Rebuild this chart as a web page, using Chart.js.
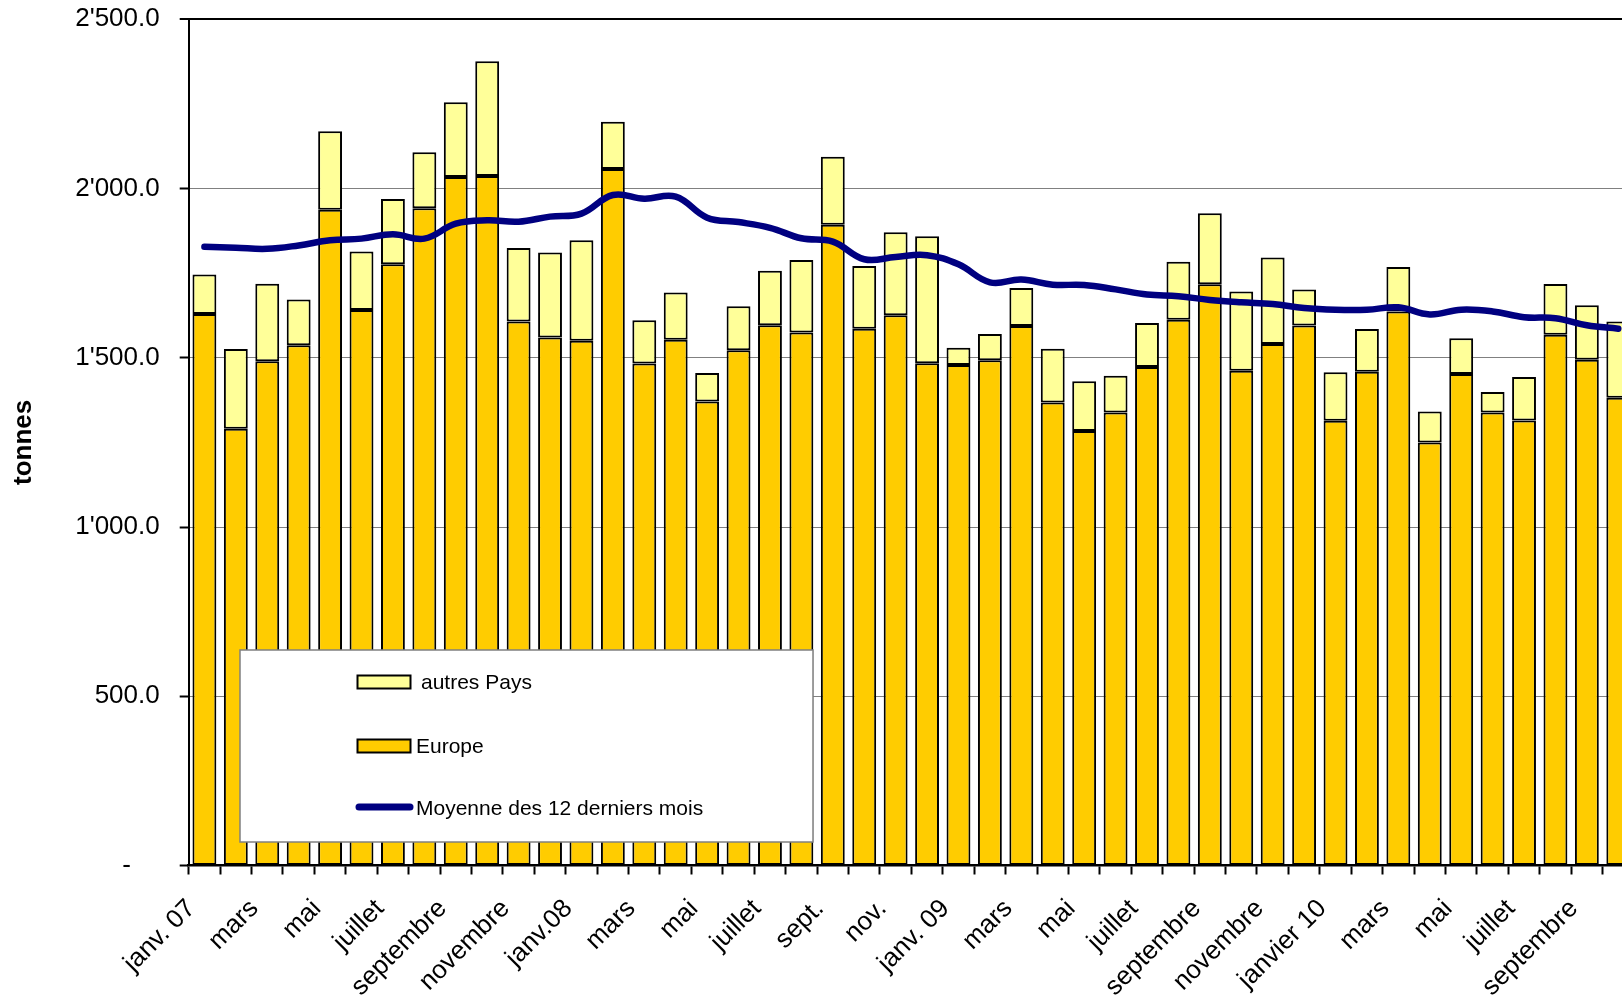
<!DOCTYPE html>
<html><head><meta charset="utf-8">
<script src="https://cdn.jsdelivr.net/npm/chart.js@4/dist/chart.umd.min.js"></script>
<style>
html,body{margin:0;padding:0;background:#fff;overflow:hidden;width:1622px;height:999px}
#wrap{position:absolute;left:0;top:0;width:1660px;height:999px}
</style>
</head><body><div id="wrap"><canvas id="c" width="1660" height="999"></canvas></div>
<script>
// Month tick labels (one label every two months, as in the original)
const tickLabels = [
 'janv. 07','', 'mars','', 'mai','', 'juillet','', 'septembre','', 'novembre','',
 'janv.08','', 'mars','', 'mai','', 'juillet','', 'sept.','', 'nov.','',
 'janv. 09','', 'mars','', 'mai','', 'juillet','', 'septembre','', 'novembre','',
 'janvier 10','', 'mars','', 'mai','', 'juillet','', 'septembre',''
];
// Europe (tonnes)
const europe = [
 1629,1290,1490,1537,1937,1641,1776,1942,2034,2037,1607,1560,
 1550,2058,1483,1553,1371,1522,1596,1575,1893,1586,1626,1484,
 1479,1493,1594,1368,1284,1338,1473,1612,1717,1462,1541,1595,
 1314,1459,1637,1250,1452,1338,1315,1568,1494,1382
];
// autres Pays (tonnes)
const autresPays = [
 117,236,229,135,232,173,193,165,221,339,217,251,
 297,139,128,140,84,130,161,214,201,185,245,375,
 51,77,112,159,147,109,130,172,210,234,255,107,
 143,126,131,91,106,61,128,150,161,225
];
// Moyenne des 12 derniers mois (tonnes)
const moyenne12 = [
 1828,1825,1822,1832,1847,1852,1865,1852,1896,1906,1902,1917,
 1926,1981,1970,1976,1914,1901,1884,1853,1843,1791,1798,1803,
 1776,1723,1731,1716,1715,1702,1687,1682,1671,1664,1659,1647,
 1642,1642,1649,1628,1642,1637,1620,1617,1596,1586
];
const yTicks = [0,500,1000,1500,2000,2500];
const seriesNames = ['Europe','autres Pays','Moyenne des 12 derniers mois'];

const FONT = '"Liberation Sans", Arial, sans-serif';

function fmt(v){
  if (v === 0) return '-    ';
  const s = v.toFixed(1);
  const [ip, dp] = s.split('.');
  return ip.replace(/\B(?=(\d{3})+(?!\d))/g, "'") + '.' + dp;
}

const legendPlugin = {
  id: 'boxLegend',
  afterDatasetsDraw(chart){
    const c = chart.ctx;
    c.save();
    const bx = 240, by = 650, bw = 573, bh = 192;
    c.fillStyle = '#ffffff';
    c.fillRect(bx, by, bw, bh);
    c.strokeStyle = '#808080';
    c.lineWidth = 1.5;
    c.strokeRect(bx, by, bw, bh);
    const order = [1, 0, 2];
    const rows = [682, 746, 808];
    const textX = [421, 416, 416];
    order.forEach((di, i) => {
      const ds = chart.data.datasets[di];
      const y = rows[i];
      if (ds.type === 'line') {
        c.strokeStyle = ds.borderColor;
        c.lineWidth = 7;
        c.lineCap = 'round';
        c.beginPath();
        c.moveTo(359, y - 1);
        c.lineTo(410, y - 1);
        c.stroke();
      } else {
        c.fillStyle = ds.backgroundColor;
        c.fillRect(357.5, y - 6.5, 53, 13);
        c.strokeStyle = '#000';
        c.lineWidth = 2;
        c.strokeRect(357.5, y - 6.5, 53, 13);
      }
      c.fillStyle = '#000';
      c.font = '21px ' + FONT;
      c.textBaseline = 'middle';
      c.textAlign = 'left';
      c.fillText(ds.label, textX[i], y + 1);
    });
    c.restore();
  }
};

const ctx = document.getElementById('c').getContext('2d');
new Chart(ctx, {
  type: 'bar',
  data: {
    labels: tickLabels,
    datasets: [
      { label: seriesNames[0], data: europe, backgroundColor: '#FFCC00', borderColor: '#000',
        borderWidth: 2, borderSkipped: false, stack: 's', order: 2,
        barPercentage: 0.76, categoryPercentage: 1 },
      { label: seriesNames[1], data: autresPays, backgroundColor: '#FFFF99', borderColor: '#000',
        borderWidth: 2, borderSkipped: false, stack: 's', order: 2,
        barPercentage: 0.76, categoryPercentage: 1 },
      { type: 'line', label: seriesNames[2], data: moyenne12, borderColor: '#000080',
        borderWidth: 6.5, pointRadius: 0, tension: 0.4, stack: 'm', order: 1,
        borderCapStyle: 'round', borderJoinStyle: 'round', fill: false }
    ]
  },
  options: {
    responsive: false,
    animation: false,
    devicePixelRatio: 1,
    layout: { padding: { top: 19.3, right: 26, bottom: 0, left: 0 } },
    plugins: { legend: { display: false }, tooltip: { enabled: false }, title: { display: false } },
    scales: {
      x: {
        stacked: true,
        grid: { offset: true, drawOnChartArea: false, drawTicks: true, tickLength: 9,
                tickColor: '#000', tickWidth: 2 },
        border: { display: true, color: '#000', width: 2.5 },
        ticks: { autoSkip: false, minRotation: 45, maxRotation: 45, color: '#000',
                 font: { family: FONT, size: 26 }, padding: 19, labelOffset: -13 },
        afterFit(s){ s.height = 133.5; s.paddingLeft = 0; s.paddingRight = 0; }
      },
      y: {
        stacked: true, min: 0, max: 2500,
        afterBuildTicks(s){ s.ticks = yTicks.map(v => ({ value: v })); },
        grid: {
          color: (c) => (c.tick && c.tick.value === 2500) ? '#000' : '#808080',
          lineWidth: (c) => (c.tick && c.tick.value === 2500) ? 2 : 1,
          tickColor: '#000', tickLength: 9, tickWidth: 2
        },
        border: { display: true, color: '#000', width: 2 },
        ticks: { color: '#000', font: { family: FONT, size: 26 }, padding: 20,
                 callback: (v) => fmt(v) },
        title: { display: true, text: 'tonnes', color: '#000',
                 font: { family: FONT, size: 26, weight: 'bold' }, padding: { top: 8, bottom: 0 } },
        afterFit(s){ s.width = 188.7; s.paddingTop = 0; s.paddingBottom = 0; }
      }
    }
  },
  plugins: [legendPlugin]
});
</script>
</body></html>
